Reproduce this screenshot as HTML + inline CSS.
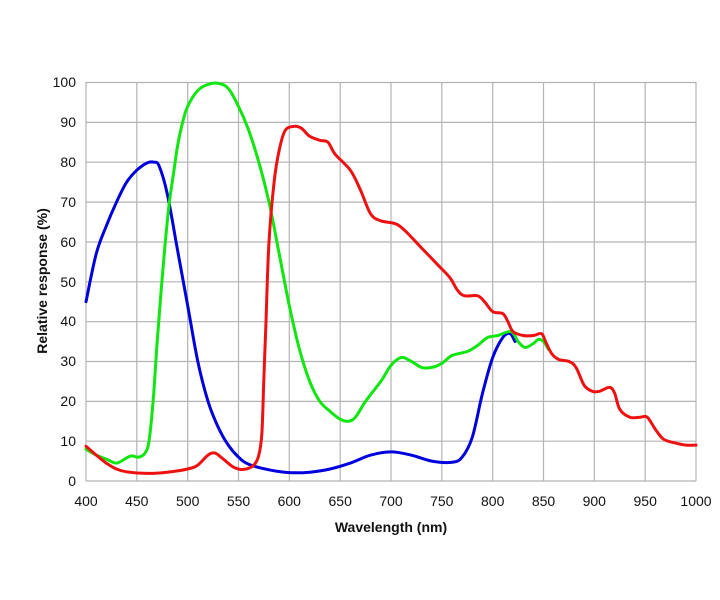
<!DOCTYPE html>
<html><head><meta charset="utf-8"><style>
body{margin:0;background:#fff;}
svg{display:block;font-family:"Liberation Sans",sans-serif;}
</style></head><body>
<svg id="s" width="720" height="600" viewBox="0 0 720 600" xmlns="http://www.w3.org/2000/svg">
<g stroke="#b4b4b4" stroke-width="1.2" fill="none">
<path d="M86,82V481M136.8,82V481M187.7,82V481M238.5,82V481M289.3,82V481M340.2,82V481M391,82V481M441.8,82V481M492.7,82V481M543.5,82V481M594.3,82V481M645.2,82V481M696,82V481"/>
<path d="M86,82.5H696M86,122.4H696M86,162.2H696M86,202.1H696M86,242H696M86,281.8H696M86,321.7H696M86,361.5H696M86,401.4H696M86,441.2H696M86,481H696"/>
</g>
<g font-size="14" fill="#111" text-anchor="end">
<text x="76" y="87">100</text><text x="76" y="127">90</text><text x="76" y="167">80</text><text x="76" y="207">70</text><text x="76" y="247">60</text><text x="76" y="287">50</text><text x="76" y="326">40</text><text x="76" y="366">30</text><text x="76" y="406">20</text><text x="76" y="446">10</text><text x="76" y="486">0</text>
</g>
<g font-size="14" fill="#111" text-anchor="middle">
<text x="86" y="506">400</text><text x="136.8" y="506">450</text><text x="187.7" y="506">500</text><text x="238.5" y="506">550</text><text x="289.3" y="506">600</text><text x="340.2" y="506">650</text><text x="391" y="506">700</text><text x="441.8" y="506">750</text><text x="492.7" y="506">800</text><text x="543.5" y="506">850</text><text x="594.3" y="506">900</text><text x="645.2" y="506">950</text><text x="696" y="506">1000</text>
</g>
<text x="391" y="532" font-size="14" font-weight="bold" text-anchor="middle" fill="#111">Wavelength (nm)</text>
<text transform="translate(47,281) rotate(-90)" font-size="14" font-weight="bold" text-anchor="middle" fill="#111">Relative response (%)</text>
<g fill="none" stroke-width="3" stroke-linejoin="round" stroke-linecap="round">
<path id="b" stroke="#0000dd"/>
<path id="g" stroke="#11e611"/>
<path id="r" stroke="#ee1111"/>
</g>
</svg>
<script>
var D={
b:"400,45 410,57 420,64 430,70 440,75 450,78 460,79.8 467,80 472,79 480,72 490,58 500,44 510,30 520,20 530,13.5 540,9 550,6 560,4.2 580,2.8 600,2.1 620,2.2 640,3 660,4.5 680,6.5 700,7.3 720,6.5 740,5 760,4.7 770,6 780,11 790,22 800,31 810,36 817,37 822,35",
g:"400,8 410,6.5 420,5.5 430,4.5 440,5.8 445,6.3 452,6 458,7 462,10 466,20 470,35 474,48 478,60 482,70 486,77 490,84 495,90 500,94 510,98 520,99.5 530,99.8 540,98.5 550,94 560,88 570,80 580,70 590,57 600,44 610,33 620,25 630,20 640,17.5 650,15.5 658,15 665,16 675,20 690,25 700,29 710,31 720,30 730,28.5 740,28.5 750,29.5 760,31.5 775,32.5 785,34 795,36 805,36.5 818,37.5 825,35 832,33.5 840,34.5 845,35.5 850,35 855,33",
r:"400,8.7 410,6.5 420,4.5 430,3 440,2.3 460,1.9 480,2.2 500,3 510,4 520,6.5 527,7 535,5.5 545,3.5 555,2.9 565,4 570,6.5 573,12 575,26 577,40 580,60 585,75 590,83 596,88 605,89 612,88.5 620,86.5 630,85.5 638,85 645,82 660,78 670,73 680,67 690,65.3 705,64.5 715,62.5 730,58.5 745,54.5 758,51 765,48 772,46.5 785,46.5 792,45 800,42.5 810,42 815,40 820,37.5 830,36.5 840,36.5 848,37 852,35 858,32 865,30.5 875,30 882,28.5 890,24 898,22.5 905,22.5 915,23.5 920,22 925,18 935,16 945,16 952,16 960,13 968,10.5 980,9.5 990,9 1000,9"};
for(var k in D){
 var p=D[k].split(" ").map(function(s){var a=s.split(",");return [86+(a[0]-400)*1.01667,481-a[1]*3.985];});
 var d="M"+p[0][0].toFixed(1)+","+p[0][1].toFixed(1);
 for(var i=0;i<p.length-1;i++){
  var p0=p[Math.max(i-1,0)],p1=p[i],p2=p[i+1],p3=p[Math.min(i+2,p.length-1)];
  var c1=[p1[0]+(p2[0]-p0[0])/6,p1[1]+(p2[1]-p0[1])/6],c2=[p2[0]-(p3[0]-p1[0])/6,p2[1]-(p3[1]-p1[1])/6];
  d+="C"+c1[0].toFixed(1)+","+c1[1].toFixed(1)+" "+c2[0].toFixed(1)+","+c2[1].toFixed(1)+" "+p2[0].toFixed(1)+","+p2[1].toFixed(1);
 }
 document.getElementById(k).setAttribute("d",d);
}
</script>
</body></html>
